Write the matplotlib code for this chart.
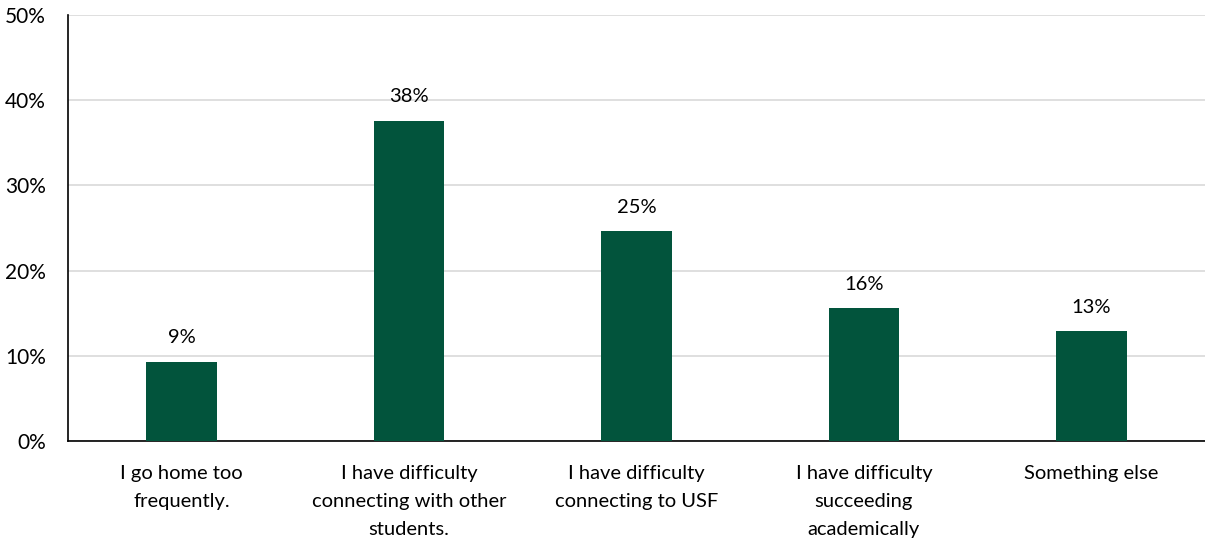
import matplotlib.pyplot as plt
from matplotlib.ticker import PercentFormatter

reasons = [
    "I go home too\nfrequently.",
    "I have difficulty\nconnecting with other\nstudents.",
    "I have difficulty\nconnecting to USF",
    "I have difficulty\nsucceeding\nacademically",
    "Something else",
]
shares = [9.3, 37.6, 24.6, 15.6, 12.9]

plt.rcParams["font.family"] = ["Lato", "DejaVu Sans"]

fig = plt.figure(figsize=(12.05, 5.45), dpi=100)
ax = fig.add_axes([0.0564, 0.1908, 0.9436, 0.7817])

x = range(len(reasons))
bars = ax.bar(x, shares, width=0.31, color="#02543C", zorder=3)
for b, v in zip(bars, shares):
    ax.text(b.get_x() + b.get_width() / 2, v + 1.8, "{:.0f}%".format(v),
            ha="center", va="bottom", fontsize=14.5)

ax.set_xlim(-0.5, len(reasons) - 0.5)
ax.set_ylim(0, 50)
ax.set_yticks(range(0, 51, 10))
ax.yaxis.set_major_formatter(PercentFormatter(decimals=0))
ax.set_xticks(list(x))
ax.set_xticklabels(reasons, fontsize=14.5, linespacing=1.8)
ax.tick_params(axis="y", length=0, pad=16, labelsize=15)
ax.tick_params(axis="x", length=0, pad=17)
ax.grid(axis="y", color="#D9D9D9", linewidth=1.2, zorder=0)

for s in ["top", "right"]:
    ax.spines[s].set_visible(False)
ax.spines["left"].set_color("black")
ax.spines["bottom"].set_color("black")
ax.spines["left"].set_linewidth(1.2)
ax.spines["bottom"].set_linewidth(1.2)

fig.savefig("out.png", dpi=100)
